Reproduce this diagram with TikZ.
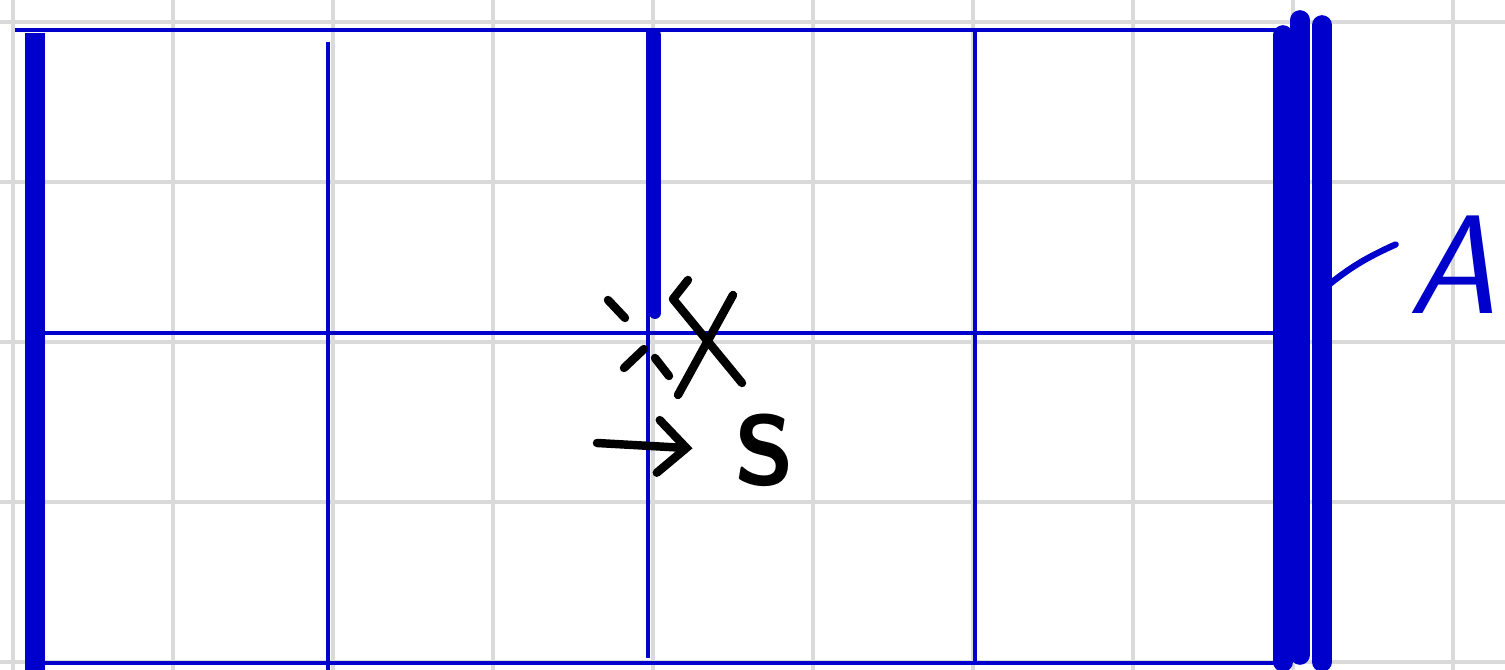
\documentclass[tikz,border=0pt]{standalone}
\usetikzlibrary{arrows.meta}
\definecolor{penblue}{RGB}{0,0,204}
\definecolor{gridgray}{RGB}{218,218,218}

\begin{document}
\begin{tikzpicture}[x=0.01cm, y=-0.01cm,
    rod/.style={penblue, line width=1.2pt},
    bar/.style={penblue, line width=5.6pt, line cap=round},
    ink/.style={black, line width=2.4pt, line cap=round, line join=round}]
  \useasboundingbox (0,0) rectangle (1505,670);
  \fill[white] (0,0) rectangle (1505,670);
  % grid paper, 160 px pitch
  \foreach \x in {13,173,...,1453} \draw[gridgray, line width=0.9pt] (\x,0) -- (\x,670);
  \foreach \y in {22,182,...,662} \draw[gridgray, line width=0.9pt] (0,\y) -- (1505,\y);
  % frame
  \draw[rod] (15,30) -- (1280,30);
  \draw[rod] (35,333) -- (1278,333);
  \draw[rod] (35,663) -- (1280,663);
  \draw[rod] (328,42) -- (328,672);
  \draw[rod] (648,30) -- (648,658);
  \draw[rod] (975,30) -- (975,663);
  \draw[bar, line cap=butt, line width=5.8pt] (35,33) -- (35,672);
  \draw[bar, line width=3.4pt] (655,35) -- (655,313);
  \draw[bar] (1283,35) -- (1283,662);
  \draw[bar] (1300,20) -- (1300,655);
  \draw[bar] (1322,25) -- (1322,662);
  % label of the right support
  \node[penblue, font=\sffamily\itshape\fontsize{40}{44}\selectfont] (A) at (1452,265) {A};
  \coordinate (Afoot) at (1320,292);
  \draw[penblue, line width=1.8pt, line cap=round] (Afoot) to[bend left=8] (A.160);
  % cut mark at the joint
  \draw[ink] (688,280) -- (673,299) -- (742,383);
  \draw[ink] (733,295) -- (678,395);
  \draw[ink] (608,300) -- (625,318);
  \draw[ink] (655,358) -- (669,376);
  \draw[ink] (624,368) -- (644,349);
  % arrow to S
  \node[font=\sffamily\bfseries\fontsize{28}{32}\selectfont] (S) at (765,450) {S};
  \coordinate (arrowtail) at (597,443);
  \draw[ink, -{Straight Barb[length=8pt, width=15pt, line cap=round]}, shorten >=0.3cm] (arrowtail) -- (S.west);
\end{tikzpicture}
\end{document}
